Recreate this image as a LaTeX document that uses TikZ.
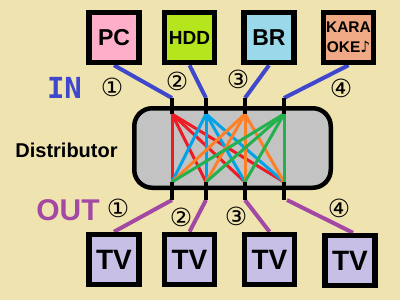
\documentclass[tikz,border=0pt]{standalone}
\usepackage{fontspec}
\setmainfont{Liberation Sans}
\newfontfamily\symfont{DejaVu Sans}
\newfontfamily\monofont{DejaVu Sans Mono}
\usetikzlibrary{backgrounds}
\definecolor{bgcream}{HTML}{EFE4B0}
\definecolor{pcpink}{HTML}{FFAEC9}
\definecolor{hddlime}{HTML}{B5E61D}
\definecolor{brcyan}{HTML}{99D9EA}
\definecolor{karasalmon}{HTML}{EFA985}
\definecolor{tvlavender}{HTML}{C8BFE7}
\definecolor{distgray}{HTML}{C3C3C3}
\definecolor{inblue}{HTML}{3F48CC}
\definecolor{outpurple}{HTML}{A349A4}
\definecolor{mixred}{HTML}{ED1C24}
\definecolor{mixblue}{HTML}{00A2E8}
\definecolor{mixorange}{HTML}{FF7F27}
\definecolor{mixgreen}{HTML}{22B14C}
\tikzset{
  devbox/.style={draw=black,line width=5.5pt,minimum size=50pt,inner sep=0pt},
  distbox/.style={draw=black,fill=distgray,line width=4.5pt,rounded corners=18pt,
    minimum width=196.5pt,minimum height=79.5pt},
  portstub/.style={draw=black,line width=4pt},
  inwire/.style={draw=inblue,line width=4pt},
  outwire/.style={draw=outpurple,line width=4pt},
  mixwire/.style={line width=3pt},
  numlabel/.style={font=\symfont\fontsize{25}{25}\selectfont,inner sep=0pt}
}

\begin{document}
\begin{tikzpicture}[x=1pt,y=-1pt]
\begin{scope}[on background layer]
\fill[bgcream] (0,0) rectangle (400,300);
\end{scope}
\useasboundingbox (0,0) rectangle (400,300);

% sources
\node[devbox, fill=pcpink, font=\bfseries\fontsize{23}{23}\selectfont] (pc) at (114,37.5) {PC};
\node[devbox, fill=hddlime, font=\bfseries\fontsize{19}{19}\selectfont] (hdd) at (189.5,37.5) {HDD};
\node[devbox, fill=brcyan, font=\bfseries\fontsize{23}{23}\selectfont] (br) at (269,37.5) {BR};
\node[devbox, fill=karasalmon, align=center, font=\bfseries\fontsize{15.5}{20}\selectfont] (kara) at (348.5,37.5) {KARA\\OKE{\symfont ♪}};

% displays
\node[devbox, fill=tvlavender, font=\bfseries\fontsize{28}{28}\selectfont] (tv1) at (114,259.5) {TV};
\node[devbox, fill=tvlavender, font=\bfseries\fontsize{28}{28}\selectfont] (tv2) at (189.5,259.5) {TV};
\node[devbox, fill=tvlavender, font=\bfseries\fontsize{28}{28}\selectfont] (tv3) at (269.5,259.5) {TV};
\node[devbox, fill=tvlavender, font=\bfseries\fontsize{28}{28}\selectfont] (tv4) at (350,260.5) {TV};

% distributor
\node[distbox] (dist) at (232.5,148) {};
\foreach \i/\x in {1/172,2/206,3/245,4/284}{
  \coordinate (in\i) at (\x,98);
  \coordinate (top\i) at (\x,114);
  \coordinate (bot\i) at (\x,182);
  \coordinate (out\i) at (\x,200);
}
\foreach \i/\c in {1/mixred,2/mixblue,3/mixorange,4/mixgreen}
  \foreach \j in {1,...,4}
    \draw[mixwire,\c] (top\i) -- (bot\j);
\foreach \i in {1,...,4}{
  \draw[portstub] (in\i) -- (top\i);
  \draw[portstub] (bot\i) -- (out\i);
}

% wires
\begin{scope}[on background layer]
\draw[inwire] (pc.south) -- (in1);
\draw[inwire] (hdd.south) -- (in2);
\draw[inwire] (br.south) -- (in3);
\draw[inwire] (kara.south) -- (in4);
\draw[outwire] (out1) -- (tv1.north);
\draw[outwire] (out2) -- (tv2.north);
\draw[outwire] (out3) -- (tv3.north);
\draw[outwire] ([xshift=3pt]out4) -- ([xshift=3pt]tv4.north);
\end{scope}

% labels
\node[font=\monofont\bfseries\fontsize{29}{29}\selectfont, text=inblue, anchor=base] (inlabel) at (64.5,98) {IN};
\node[font=\bfseries\fontsize{30}{30}\selectfont, text=outpurple, anchor=base] (outlabel) at (68,220) {OUT};
\node[font=\bfseries\fontsize{20}{20}\selectfont, anchor=base] (distlabel) at (66.5,157) {Distributor};
\node[numlabel] (inum1) at (112,87) {①};
\node[numlabel] (inum2) at (177,81) {②};
\node[numlabel] (inum3) at (238,79) {③};
\node[numlabel] (inum4) at (341,88) {④};
\node[numlabel] (onum1) at (118,208) {①};
\node[numlabel] (onum2) at (181,217) {②};
\node[numlabel] (onum3) at (236,216) {③};
\node[numlabel] (onum4) at (339,208) {④};
\end{tikzpicture}
\end{document}
